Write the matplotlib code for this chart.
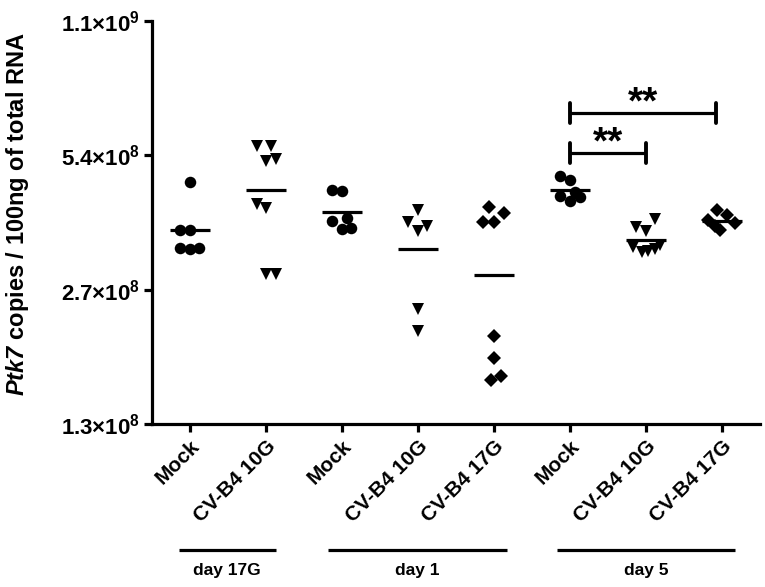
import numpy as np
import matplotlib
matplotlib.use("Agg")
import matplotlib.pyplot as plt
from matplotlib.ticker import NullLocator
import matplotlib.transforms as mtransforms

plt.rcParams['font.family'] = ['Liberation Sans', 'DejaVu Sans']
plt.rcParams['font.weight'] = 'bold'
plt.rcParams['mathtext.fontset'] = 'custom'
plt.rcParams['mathtext.rm'] = 'Liberation Sans:bold'
plt.rcParams['mathtext.bf'] = 'Liberation Sans:bold'
plt.rcParams['mathtext.bfit'] = 'Liberation Sans:bold:italic'

# groupes (x = 0..7)
labels = ['Mock', 'CV-B4 10G', 'Mock', 'CV-B4 10G', 'CV-B4 17G', 'Mock', 'CV-B4 10G', 'CV-B4 17G']
markers = ['o', 'v', 'o', 'v', 'D', 'o', 'v', 'D']

# valeurs en 1e8 copies
vals = [
    [4.69, 3.67, 3.67, 3.35, 3.33, 3.35],
    [5.67, 5.67, 5.25, 5.30, 4.20, 4.11, 2.93, 2.93],
    [4.51, 4.48, 3.85, 3.91, 3.69, 3.71],
    [4.07, 3.82, 3.75, 3.66, 2.44, 2.18],
    [4.14, 4.00, 3.82, 3.82, 2.13, 1.90, 1.69, 1.73],
    [4.86, 4.75, 4.46, 4.38, 4.36, 4.26],
    [3.72, 3.66, 3.89, 3.37, 3.28, 3.30, 3.33, 3.39],
    [4.06, 3.97, 3.87, 3.81, 3.68, 3.74],
]
# decalage horizontal des points (scatter)
jit = [
    [0, -0.13, 0, -0.13, 0, 0.12],
    [-0.115, 0.06, 0, 0.13, -0.115, 0, 0, 0.13],
    [-0.135, 0, -0.13, 0.06, 0, 0.115],
    [0, -0.13, 0.12, 0, 0, 0],
    [-0.06, 0.13, -0.14, 0, 0, 0, -0.04, 0.09],
    [-0.13, 0, 0.07, -0.13, 0.13, 0],
    [-0.13, 0, 0.12, -0.17, -0.05, 0.03, 0.12, 0.18],
    [-0.07, 0.06, -0.18, 0.17, -0.03, -0.09],
]

# groupes de jours: (debut, fin, texte)
days = [(-0.15, 1.13, 'day 17G'), (1.82, 4.17, 'day 1'), (4.83, 7.17, 'day 5')]

# significativite: (x1, x2, y en 1e8, texte)
sig = [(5, 6.92, 6.70, '**'), (5, 6.0, 5.45, '**')]

yticks = [1.35e8, 2.7e8, 5.4e8, 1.08e9]
ytick_labels = ['1.3×10$^{8}$', '2.7×10$^{8}$', '5.4×10$^{8}$', '1.1×10$^{9}$']

fig = plt.figure(figsize=(7.65, 5.87), dpi=100)
ax = fig.add_axes([0.1987, 0.2777, 0.7948, 0.687])

for i in range(len(vals)):
    v = np.array(vals[i]) * 1e8
    x = i + np.array(jit[i])
    ms = 8.3 if markers[i] == 'o' else (8.8 if markers[i] == 'v' else 7.4)
    ax.plot(x, v, linestyle='none', marker=markers[i], color='black',
            markersize=ms, markeredgewidth=0)
    m = np.mean(v)
    ax.plot([i - 0.26, i + 0.26], [m, m], color='black', lw=2.3, solid_capstyle='butt')

for x1, x2, y, t in sig:
    y = y * 1e8
    ax.plot([x1, x2], [y, y], color='black', lw=2.3, solid_capstyle='butt')
    for xx in (x1, x2):
        ax.plot([xx, xx], [y / 1.053, y * 1.053], color='black', lw=2.8, solid_capstyle='round')
    ax.annotate(t, xy=((x1 + x2) / 2, y), xytext=(0, -6), textcoords='offset points',
                ha='center', va='bottom', fontsize=28)

ax.set_yscale('log')
ax.set_ylim(1.35e8, 1.08e9)
ax.set_xlim(-0.5, 7.5)
ax.set_yticks(yticks)
ax.set_yticklabels(ytick_labels)
ax.yaxis.set_minor_locator(NullLocator())
ax.set_xticks(range(len(labels)))
ax.set_xticklabels(labels, rotation=45, ha='right', va='top', rotation_mode='anchor')
shift = mtransforms.ScaledTranslation(7 / 72, 0, fig.dpi_scale_trans)
for lab in ax.get_xticklabels():
    lab.set_transform(lab.get_transform() + shift)

for s in ['top', 'right']:
    ax.spines[s].set_visible(False)
for s in ['left', 'bottom']:
    ax.spines[s].set_linewidth(2.3)
ax.tick_params(axis='both', width=2.3, length=5.5)
ax.tick_params(axis='x', labelsize=15)
ax.tick_params(axis='y', labelsize=16, pad=3)

ax.set_ylabel(r'$\mathbfit{Ptk7}$ copies / 100ng of total RNA', fontsize=17, fontweight='bold')
ax.yaxis.set_label_coords(-0.199, 0.52)

trans = mtransforms.blended_transform_factory(ax.transData, ax.transAxes)
for x1, x2, t in days:
    ax.plot([x1, x2], [-0.312, -0.312], color='black', lw=2.3, transform=trans,
            clip_on=False, solid_capstyle='butt')
    ax.text((x1 + x2) / 2, -0.364, t, transform=trans, ha='center', va='center', fontsize=12.5)

fig.savefig('out.png', dpi=100)
